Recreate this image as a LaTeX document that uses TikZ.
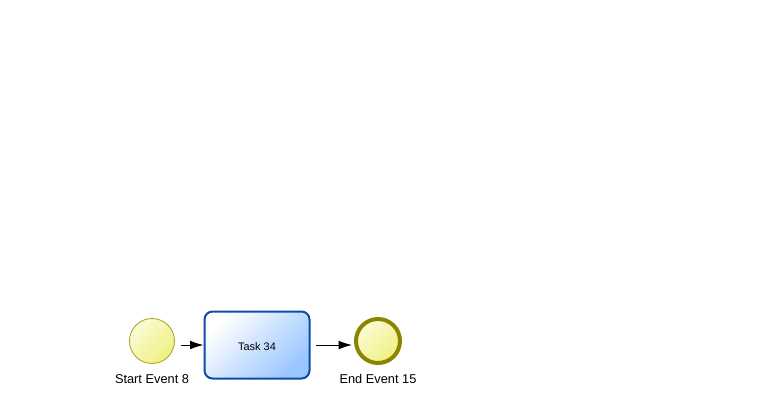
\documentclass[tikz,border=0pt]{standalone}
\usepackage{fontspec}
\setmainfont{Liberation Sans}
\usetikzlibrary{arrows.meta}
\definecolor{taskblue}{HTML}{99C6FF}
\definecolor{taskborder}{HTML}{0D4CA6}
\definecolor{evlight}{HTML}{FBFBD6}
\definecolor{evdark}{HTML}{F0F080}
\definecolor{startborder}{HTML}{A8A020}
\definecolor{endborder}{HTML}{8A8400}
\begin{document}
\begin{tikzpicture}[x=0.75pt,y=-0.75pt,
  evshade/.style={top color=evlight, bottom color=evdark, shading angle=45},
  startev/.style={circle, draw=startborder, line width=0.6pt, evshade, minimum size=45*0.75pt, inner sep=0pt},
  endev/.style={circle, draw=endborder, line width=3pt, evshade, minimum size=44*0.75pt, inner sep=0pt},
  taskbox/.style={rounded corners=6pt, draw=taskborder, line width=1.5pt, top color=white, bottom color=taskblue, shading angle=45, minimum width=105*0.75pt, minimum height=67*0.75pt, inner sep=0pt},
  tasklbl/.style={font=\fontsize{8.2pt}{10pt}\selectfont, inner sep=0pt},
  lbl/.style={font=\fontsize{9.6pt}{11pt}\selectfont, inner sep=0pt},
  flow/.style={draw=black, line width=0.7pt, -{Latex[length=10pt,width=6.5pt]}}
]
\useasboundingbox (0,0) rectangle (759,406);
\node[startev] (s) at (152,341) {};
\node[taskbox] (t) at (257,345) {};
\node[tasklbl] (tl) at (257,347) {Task 34};
\node[endev] (e) at (378,341) {};
\node[lbl] (sl) at (152,379) {Start Event 8};
\node[lbl] (el) at (378,379) {End Event 15};
\coordinate (a1) at (181,345);
\coordinate (a2) at (316,345);
\draw[flow] (a1) -- (t.west |- a1);
\draw[flow] (a2) -- (352,345);
\end{tikzpicture}
\end{document}
